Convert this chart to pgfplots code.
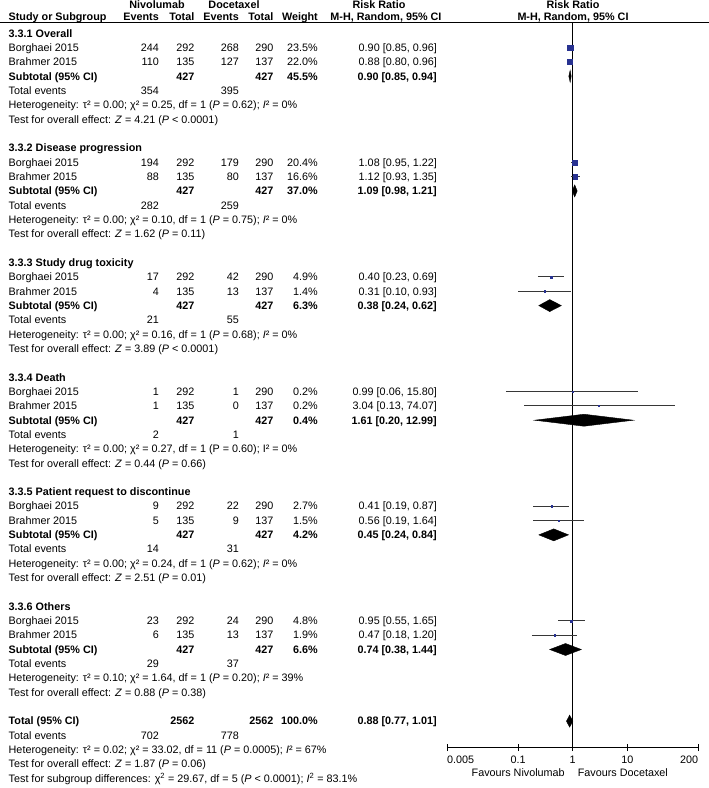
\documentclass[border=0pt]{standalone}
\usepackage{pgfplots}
\pgfplotsset{compat=1.18}
\usepackage{pgfplotstable}
\usepackage{fontspec}
\setmainfont{Liberation Sans}
\definecolor{sq}{RGB}{40,50,145}
\definecolor{ci}{RGB}{55,55,55}
\newcommand\fs{\fontsize{10.8bp}{12bp}\selectfont}

% study estimates: y (row centre), estimate, half side of square
\pgfplotstableread{
y est s
-47.63 0.90 2.74
-61.96 0.88 2.65
-162.27 1.08 2.55
-176.6 1.12 2.30
-276.91 0.40 1.00
-291.24 0.31 0.60
-391.55 0.99 0.45
-405.88 3.04 0.45
-506.19 0.41 0.80
-520.52 0.56 0.60
-620.83 0.95 1.00
-635.16 0.47 0.70
}\studies

\newcommand\Lt[2]{\pgfmathsetmacro\yy{-(37.1+14.33*(#1))}\node[anchor=base west] at (8.5,\yy) {#2};}
\newcommand\Rt[3]{\pgfmathsetmacro\yy{-(37.1+14.33*(#2))}\node[anchor=base east] at (#1,\yy) {#3};}
\newcommand\study[8]{\Lt{#1}{#2}\Rt{159}{#1}{#3}\Rt{194.5}{#1}{#4}\Rt{239}{#1}{#5}\Rt{273.5}{#1}{#6}\Rt{318}{#1}{#7}\Rt{437}{#1}{#8}}
\newcommand\subt[3]{\Lt{#1}{\textbf{Subtotal (95\% CI)}}\Rt{194.5}{#1}{\textbf{427}}\Rt{273.5}{#1}{\textbf{427}}\Rt{318}{#1}{\textbf{#2}}\Rt{437}{#1}{\textbf{#3}}}
\newcommand\te[3]{\Lt{#1}{Total events}\Rt{159}{#1}{#2}\Rt{239}{#1}{#3}}
\newcommand\het[6]{\Lt{#1}{Heterogeneity: τ² = #2; χ² = #3, df = #4 (\textit{P} = #5); \textit{I}² = #6\%}}
\newcommand\toe[3]{\Lt{#1}{Test for overall effect: \textit{Z} = #2 (\textit{P} #3)}}

\begin{document}
\begin{tikzpicture}[x=1bp,y=1bp, every node/.append style={inner sep=0pt, font=\fs}]
\useasboundingbox (0,0) rectangle (709,-788);
\draw[line width=0.9bp] (0,-22.7) -- (709,-22.7);
% headers
\node[anchor=base] at (157,-9) {\textbf{Nivolumab}};
\node[anchor=base] at (234,-9) {\textbf{Docetaxel}};
\node[anchor=base] at (379,-9) {\textbf{Risk Ratio}};
\node[anchor=base] at (573,-9) {\textbf{Risk Ratio}};
\node[anchor=base west] at (8.5,-21) {\textbf{Study or Subgroup}};
\node[anchor=base east] at (159,-21) {\textbf{Events}};
\node[anchor=base east] at (194.5,-21) {\textbf{Total}};
\node[anchor=base east] at (239,-21) {\textbf{Events}};
\node[anchor=base east] at (273.5,-21) {\textbf{Total}};
\node[anchor=base east] at (318,-21) {\textbf{Weight}};
\node[anchor=base] at (386,-21) {\textbf{M-H, Random, 95\% CI}};
\node[anchor=base] at (573,-21) {\textbf{M-H, Random, 95\% CI}};
% 3.3.1
\Lt{0}{\textbf{3.3.1 Overall}}
\study{1}{Borghaei 2015}{244}{292}{268}{290}{23.5\%}{0.90 [0.85, 0.96]}
\study{2}{Brahmer 2015}{110}{135}{127}{137}{22.0\%}{0.88 [0.80, 0.96]}
\subt{3}{45.5\%}{0.90 [0.85, 0.94]}
\te{4}{354}{395}
\het{5}{0.00}{0.25}{1}{0.62}{0}
\toe{6}{4.21}{< 0.0001}
% 3.3.2
\Lt{8}{\textbf{3.3.2 Disease progression}}
\study{9}{Borghaei 2015}{194}{292}{179}{290}{20.4\%}{1.08 [0.95, 1.22]}
\study{10}{Brahmer 2015}{88}{135}{80}{137}{16.6\%}{1.12 [0.93, 1.35]}
\subt{11}{37.0\%}{1.09 [0.98, 1.21]}
\te{12}{282}{259}
\het{13}{0.00}{0.10}{1}{0.75}{0}
\toe{14}{1.62}{= 0.11}
% 3.3.3
\Lt{16}{\textbf{3.3.3 Study drug toxicity}}
\study{17}{Borghaei 2015}{17}{292}{42}{290}{4.9\%}{0.40 [0.23, 0.69]}
\study{18}{Brahmer 2015}{4}{135}{13}{137}{1.4\%}{0.31 [0.10, 0.93]}
\subt{19}{6.3\%}{0.38 [0.24, 0.62]}
\te{20}{21}{55}
\het{21}{0.00}{0.16}{1}{0.68}{0}
\toe{22}{3.89}{< 0.0001}
% 3.3.4
\Lt{24}{\textbf{3.3.4 Death}}
\study{25}{Borghaei 2015}{1}{292}{1}{290}{0.2\%}{0.99 [0.06, 15.80]}
\study{26}{Brahmer 2015}{1}{135}{0}{137}{0.2\%}{3.04 [0.13, 74.07]}
\subt{27}{0.4\%}{1.61 [0.20, 12.99]}
\te{28}{2}{1}
\Lt{29}{Heterogeneity: τ² = 0.00; χ² = 0.27, df = 1 (P = 0.60); I² = 0\%}
\toe{30}{0.44}{= 0.66}
% 3.3.5
\Lt{32}{\textbf{3.3.5 Patient request to discontinue}}
\study{33}{Borghaei 2015}{9}{292}{22}{290}{2.7\%}{0.41 [0.19, 0.87]}
\study{34}{Brahmer 2015}{5}{135}{9}{137}{1.5\%}{0.56 [0.19, 1.64]}
\subt{35}{4.2\%}{0.45 [0.24, 0.84]}
\te{36}{14}{31}
\het{37}{0.00}{0.24}{1}{0.62}{0}
\toe{38}{2.51}{= 0.01}
% 3.3.6
\Lt{40}{\textbf{3.3.6 Others}}
\study{41}{Borghaei 2015}{23}{292}{24}{290}{4.8\%}{0.95 [0.55, 1.65]}
\study{42}{Brahmer 2015}{6}{135}{13}{137}{1.9\%}{0.47 [0.18, 1.20]}
\subt{43}{6.6\%}{0.74 [0.38, 1.44]}
\te{44}{29}{37}
\het{45}{0.10}{1.64}{1}{0.20}{39}
\toe{46}{0.88}{= 0.38}
% total
\Lt{48}{\textbf{Total (95\% CI)}}
\Rt{194.5}{48}{\textbf{2562}}\Rt{273.5}{48}{\textbf{2562}}\Rt{318}{48}{\textbf{100.0\%}}\Rt{437}{48}{\textbf{0.88 [0.77, 1.01]}}
\te{49}{702}{778}
\het{50}{0.02}{33.02}{11}{0.0005}{67}
\toe{51}{1.87}{= 0.06}
\Lt{52}{Test for subgroup differences: χ\textsuperscript{2} = 29.67, df = 5 (\textit{P} < 0.0001); \textit{I}\textsuperscript{2} = 83.1\%}

\begin{axis}[
  at={(447bp,-747.7bp)}, anchor=south west,
  scale only axis, width=251.3bp, height=725bp,
  xmode=log, xmin=0.005, xmax=200, ymin=-747.7, ymax=-22.7,
  axis x line=bottom, axis y line=none,
  axis line style={-, black, line width=0.9bp},
  xtick={0.005,0.1,1,10,200}, xticklabels={,,,,}, minor xtick={},
  ytick=\empty,
  tick align=center, major tick length=7bp,
  tick style={black, line width=0.9bp},
  clip=false,
]
\addplot[black, line width=0.9bp] coordinates {(1,-22.7) (1,-747.7)};
% confidence intervals
\addplot[ci, line width=0.9bp] coordinates {(0.85,-47.63) (0.96,-47.63)};
\addplot[ci, line width=0.9bp] coordinates {(0.80,-61.96) (0.96,-61.96)};
\addplot[ci, line width=0.9bp] coordinates {(0.95,-162.27) (1.22,-162.27)};
\addplot[ci, line width=0.9bp] coordinates {(0.93,-176.6) (1.35,-176.6)};
\addplot[ci, line width=0.9bp] coordinates {(0.23,-276.91) (0.69,-276.91)};
\addplot[ci, line width=0.9bp] coordinates {(0.10,-291.24) (0.93,-291.24)};
\addplot[ci, line width=0.9bp] coordinates {(0.06,-391.55) (15.80,-391.55)};
\addplot[ci, line width=0.9bp] coordinates {(0.13,-405.88) (74.07,-405.88)};
\addplot[ci, line width=0.9bp] coordinates {(0.19,-506.19) (0.87,-506.19)};
\addplot[ci, line width=0.9bp] coordinates {(0.19,-520.52) (1.64,-520.52)};
\addplot[ci, line width=0.9bp] coordinates {(0.55,-620.83) (1.65,-620.83)};
\addplot[ci, line width=0.9bp] coordinates {(0.18,-635.16) (1.20,-635.16)};
% study squares
\addplot[scatter, only marks, mark=square*,
  scatter/use mapped color={draw=sq, fill=sq},
  visualization depends on={\thisrow{s} \as \msz},
  scatter/@pre marker code/.append style={/tikz/mark size=\msz, /tikz/line width=0pt}]
  table[x=est, y=y] \studies;
% pooled diamonds
\addplot[fill=black, draw=black] coordinates {(0.85,-76.29) (0.90,-70.29) (0.94,-76.29) (0.90,-82.29)} -- cycle;
\addplot[fill=black, draw=black] coordinates {(0.98,-190.93) (1.09,-184.93) (1.21,-190.93) (1.09,-196.93)} -- cycle;
\addplot[fill=black, draw=black] coordinates {(0.24,-305.57) (0.38,-299.57) (0.62,-305.57) (0.38,-311.57)} -- cycle;
\addplot[fill=black, draw=black] coordinates {(0.20,-420.21) (1.61,-414.21) (12.99,-420.21) (1.61,-426.21)} -- cycle;
\addplot[fill=black, draw=black] coordinates {(0.24,-534.85) (0.45,-528.85) (0.84,-534.85) (0.45,-540.85)} -- cycle;
\addplot[fill=black, draw=black] coordinates {(0.38,-649.49) (0.74,-643.49) (1.44,-649.49) (0.74,-655.49)} -- cycle;
\addplot[fill=black, draw=black] coordinates {(0.77,-721.14) (0.88,-715.14) (1.01,-721.14) (0.88,-727.14)} -- cycle;
% tick labels and favours labels
\node[anchor=base west] at (axis cs:0.005,-763.8) {0.005};
\node[anchor=base] at (axis cs:0.1,-763.8) {0.1};
\node[anchor=base] at (axis cs:1,-763.8) {1};
\node[anchor=base] at (axis cs:10,-763.8) {10};
\node[anchor=base east] at (axis cs:200,-763.8) {200};
\node[anchor=base east, xshift=-7.7bp] at (axis cs:1,-776.5) {Favours Nivolumab};
\node[anchor=base west, xshift=5bp] at (axis cs:1,-776.5) {Favours Docetaxel};
\end{axis}
\end{tikzpicture}
\end{document}
